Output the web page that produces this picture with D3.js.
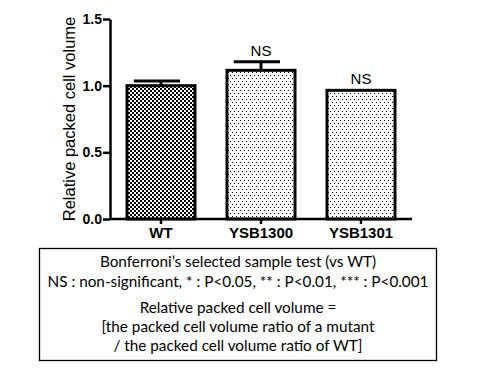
<!DOCTYPE html>
<html lang="en">
<head>
    <meta charset="UTF-8">
    <title>Relative packed cell volume</title>
    <style>
        body { margin: 0; background: #fff; }
        .axis text { font-family: "Liberation Sans", Arial, sans-serif; font-weight: bold; fill: #000; }
        .axis path, .axis line { stroke: #000; stroke-width: 2.5px; fill: none; }
        .note { font-family: Lato, "Open Sans", sans-serif; font-size: 15.3px; fill: #000; }
    </style>
</head>
<body>
<svg width="480" height="370"></svg>
<script src="https://d3js.org/d3.v7.min.js"></script>
<script>
    const strains = ["WT", "YSB1300", "YSB1301"];
    const means = [1.0, 1.115, 0.965];
    const sems = [0.035, 0.065, 0];
    const signif = ["", "NS", "NS"];
    const yTicks = [0, 0.5, 1.0, 1.5];
    const noteLines = [
        "Bonferroni\u2019s selected sample test (vs WT)",
        "NS : non-significant, * : P<0.05, ** : P<0.01, *** : P<0.001",
        "Relative packed cell volume =",
        "[the packed cell volume ratio of a mutant",
        "/ the packed cell volume ratio of WT]"
    ];

    const svg = d3.select("svg");

    // patterns: checkerboard for WT, dots for mutants
    const defs = svg.append("defs");
    const checker = defs.append("pattern")
        .attr("id", "checker")
        .attr("patternUnits", "userSpaceOnUse")
        .attr("width", 4).attr("height", 4);
    checker.append("rect").attr("width", 4).attr("height", 4).attr("fill", "#fff");
    checker.append("rect").attr("width", 2).attr("height", 2).attr("fill", "#000");
    checker.append("rect").attr("x", 2).attr("y", 2).attr("width", 2).attr("height", 2).attr("fill", "#000");

    const dots = defs.append("pattern")
        .attr("id", "dots")
        .attr("patternUnits", "userSpaceOnUse")
        .attr("width", 4).attr("height", 6);
    dots.append("rect").attr("width", 4).attr("height", 6).attr("fill", "#fff");
    dots.append("rect").attr("width", 1).attr("height", 1).attr("fill", "#000");
    dots.append("rect").attr("x", 2).attr("y", 3).attr("width", 1).attr("height", 1).attr("fill", "#000");

    const x = d3.scaleBand()
        .domain(strains)
        .range([111, 411])
        .paddingInner(0.32)
        .paddingOuter(0.16);

    const y = d3.scaleLinear()
        .domain([0, 1.5])
        .range([219, 19]);

    // bars
    svg.selectAll(".bar")
        .data(strains)
        .enter().append("rect")
        .attr("class", "bar")
        .attr("x", d => x(d))
        .attr("y", (d, i) => y(means[i]))
        .attr("width", x.bandwidth())
        .attr("height", (d, i) => y(0) - y(means[i]))
        .attr("fill", (d, i) => i === 0 ? "url(#checker)" : "url(#dots)")
        .attr("stroke", "#000")
        .attr("stroke-width", 3);

    // error bars (upper only)
    const err = svg.selectAll(".err")
        .data(strains.filter((d, i) => sems[i] > 0))
        .enter().append("g")
        .attr("class", "err");
    err.append("line")
        .attr("x1", d => x(d) + x.bandwidth() / 2)
        .attr("x2", d => x(d) + x.bandwidth() / 2)
        .attr("y1", d => y(means[strains.indexOf(d)]))
        .attr("y2", d => y(means[strains.indexOf(d)] + sems[strains.indexOf(d)]))
        .attr("stroke", "#000").attr("stroke-width", 3);
    err.append("line")
        .attr("x1", d => x(d) + x.bandwidth() * 0.1)
        .attr("x2", d => x(d) + x.bandwidth() * 0.78)
        .attr("y1", d => y(means[strains.indexOf(d)] + sems[strains.indexOf(d)]))
        .attr("y2", d => y(means[strains.indexOf(d)] + sems[strains.indexOf(d)]))
        .attr("stroke", "#000").attr("stroke-width", 3);

    // significance labels
    svg.selectAll(".sig")
        .data(strains)
        .enter().append("text")
        .attr("class", "sig")
        .attr("x", d => x(d) + x.bandwidth() / 2)
        .attr("y", (d, i) => y(means[i] + sems[i]) - 6)
        .attr("text-anchor", "middle")
        .style("font-family", "'Liberation Sans', Arial, sans-serif")
        .style("font-size", "15px")
        .text((d, i) => signif[i]);

    // axes
    svg.append("g")
        .attr("class", "axis")
        .attr("transform", "translate(110,0)")
        .call(d3.axisLeft(y).tickValues(yTicks).tickFormat(d3.format(".1f")).tickSize(7).tickSizeOuter(0))
        .call(g => g.selectAll("text").style("font-size", "14px").attr("x", -8));

    svg.append("g")
        .attr("class", "axis")
        .attr("transform", "translate(0,219)")
        .call(d3.axisBottom(x).tickSize(5).tickSizeOuter(0))
        .call(g => g.select(".domain").attr("d", "M110,0H412"))
        .call(g => g.selectAll("text").style("font-size", "15px").attr("y", 8));

    svg.append("text")
        .attr("transform", "translate(75,119) rotate(-90)")
        .attr("text-anchor", "middle")
        .style("font-family", "'Liberation Sans', Arial, sans-serif")
        .style("font-size", "16.5px")
        .text("Relative packed cell volume");

    // note box
    svg.append("rect")
        .attr("x", 39.5).attr("y", 248.5)
        .attr("width", 397).attr("height", 112)
        .attr("fill", "none").attr("stroke", "#000").attr("stroke-width", 1.3);

    const lineY = [267, 287, 313, 332, 351];
    svg.selectAll(".note")
        .data(noteLines)
        .enter().append("text")
        .attr("class", "note")
        .attr("x", 238)
        .attr("y", (d, i) => lineY[i])
        .attr("text-anchor", "middle")
        .text(d => d);
</script>
</body>
</html>
